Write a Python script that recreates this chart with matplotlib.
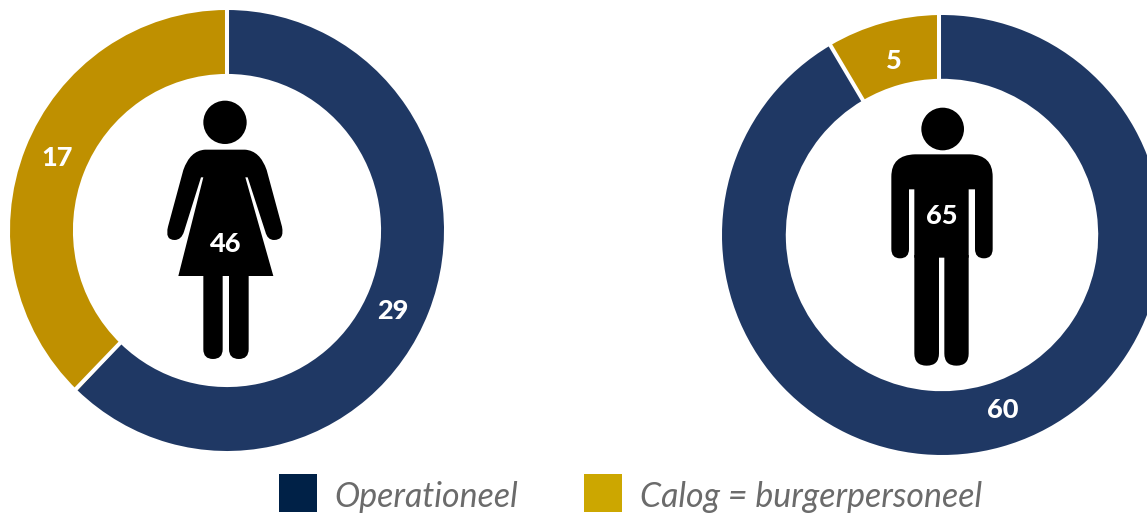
import matplotlib
matplotlib.use("Agg")
import matplotlib.pyplot as plt
from matplotlib.patches import Circle, PathPatch, Rectangle
from matplotlib.path import Path

W, H = 1147, 513

# ring shares as measured on the picture, the printed labels are rounded counts
women_shares = [62.1, 37.9]
men_shares = [91.75, 8.25]
women_values = [29, 17]
men_values = [60, 5]
women_total = 46
men_total = 65
series_names = ["Operationeel", "Calog = burgerpersoneel"]

ring_colors = ["#1f3864", "#bf9000"]
legend_colors = ["#002147", "#cca700"]

plt.rcParams["font.family"] = ["Lato", "DejaVu Sans"]

fig = plt.figure(figsize=(W / 100, H / 100), dpi=100)


# each ring gets its own axes, the rings in the picture are slightly stretched
def donut(shares, left, right, top, bottom, width, start=90):
    a = fig.add_axes([left / W, 1 - bottom / H, (right - left) / W, (bottom - top) / H])
    a.pie(shares, colors=ring_colors, startangle=start, counterclock=False, radius=1,
          wedgeprops=dict(width=width, edgecolor="none"))
    a.set_aspect("auto")
    a.set_xlim(-1, 1)
    a.set_ylim(-1, 1)
    a.axis("off")
    return a


donut(women_shares, 10, 444, 10, 451, 0.29)
donut(men_shares, 722, 1162, 15, 455, 0.29, start=90.8)

ax = fig.add_axes([0, 0, 1, 1])
ax.patch.set_alpha(0)


# white gaps between the ring segments
def gap(px1, py1, px2, py2):
    ax.plot([px1, px2], [H - py1, H - py2], color="white", lw=2.9, solid_capstyle="butt")


gap(227, 6, 227, 80)
gap(121, 342, 73, 392)
gap(939, 10, 939, 84)
gap(864, 102, 829, 43)


# the pictograms were measured on a 3x crop, so convert back to image pixels
def shape(verts, x0, y0):
    moves = []
    pts = []
    for v in verts:
        if v == "close":
            moves.append(Path.CLOSEPOLY)
            pts.append(pts[-1])
        else:
            code, px, py = v
            moves.append(code)
            pts.append((x0 + px / 3, H - (y0 + py / 3)))
    ax.add_patch(PathPatch(Path(pts, moves), fc="black", ec="none", zorder=3))


M, L, C = Path.MOVETO, Path.LINETO, Path.CURVE3


def leg(x1, x2, top, bottom):
    mid = (x1 + x2) / 2
    r = (x2 - x1) / 2
    return [(M, x1, top), (L, x2, top), (L, x2, bottom - r),
            (C, x2, bottom), (L, mid, bottom), (C, x1, bottom),
            (L, x1, bottom - r), "close"]


# woman
x0, y0 = 150, 90
ax.add_patch(Circle((x0 + 225 / 3, H - (y0 + 97 / 3)), 65 / 3, fc="black", zorder=3))
shape([(M, 165, 179), (L, 285, 179), (C, 330, 182), (L, 350, 240),
       (L, 396, 410), (C, 404, 450), (L, 372, 450), (C, 352, 450), (L, 346, 425),
       (L, 293, 262), (L, 286, 262), (L, 370, 558), (L, 85, 558), (L, 160, 262),
       (L, 153, 262), (L, 102, 425), (C, 94, 450), (L, 74, 450), (C, 44, 450),
       (L, 54, 410), (L, 100, 240), (C, 120, 182), (L, 165, 179), "close"], x0, y0)
shape(leg(160, 218, 550, 807), x0, y0)
shape(leg(237, 296, 550, 807), x0, y0)

# man
x0, y0 = 870, 95
ax.add_patch(Circle((x0 + 218 / 3, H - (y0 + 102 / 3)), 64 / 3, fc="black", zorder=3))
shape([(M, 135, 178), (L, 300, 178), (C, 368, 180), (L, 368, 245),
       (L, 368, 462), (C, 368, 490), (L, 342, 490), (C, 315, 490), (L, 315, 462),
       (L, 315, 283), (L, 296, 283), (L, 296, 488), (L, 133, 488), (L, 133, 283),
       (L, 117, 283), (L, 117, 462), (C, 117, 490), (L, 90, 490), (C, 64, 490),
       (L, 64, 462), (L, 64, 245), (C, 64, 180), (L, 135, 178), "close"], x0, y0)
shape(leg(133, 207, 480, 812), x0, y0)
shape(leg(223, 296, 480, 812), x0, y0)

# value labels
label_style = dict(color="white", fontsize=19.5, fontweight="black", ha="center",
                   va="center", zorder=4)
ax.text(393, H - 311, str(women_values[0]), **label_style)
ax.text(57, H - 158, str(women_values[1]), **label_style)
ax.text(225, H - 244, str(women_total), **label_style)
ax.text(1003, H - 410, str(men_values[0]), **label_style)
ax.text(894, H - 61, str(men_values[1]), **label_style)
ax.text(942, H - 216, str(men_total), **label_style)

# legend
for x, text_x, color, name in zip([279, 584], [334, 640], legend_colors, series_names):
    ax.add_patch(Rectangle((x, H - 512), 38, 38, fc=color, ec="none"))
    ax.text(text_x, H - 497, name, color="#6b6b6b", fontsize=24.4, style="italic",
            ha="left", va="center")

ax.set_xlim(0, W)
ax.set_ylim(0, H)
ax.axis("off")

fig.savefig("out.png", dpi=100)
